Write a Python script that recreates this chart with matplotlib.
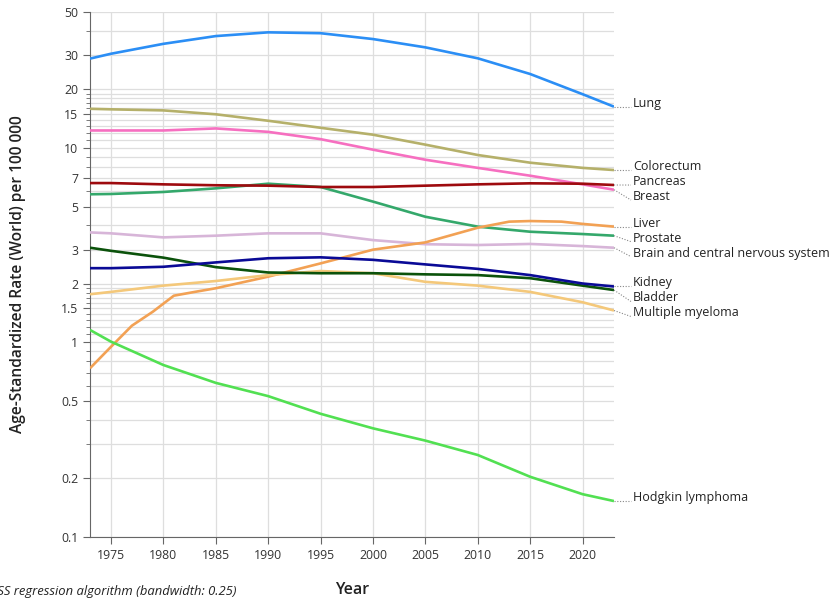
import matplotlib.pyplot as plt
from matplotlib.ticker import FixedLocator, NullFormatter, FuncFormatter

plt.rcParams['font.family'] = ['Open Sans', 'DejaVu Sans']

# smoothed age-standardized rates per 100 000
years = [1973, 1975, 1980, 1985, 1990, 1995, 2000, 2005, 2010, 2015, 2020, 2023]
liver_years = [1973, 1975, 1977, 1979, 1981, 1983, 1985, 1990, 1995, 2000,
               2005, 2010, 2013, 2015, 2018, 2020, 2023]

lung = [28.8, 30.5, 34.3, 37.6, 39.3, 38.9, 36.3, 32.9, 28.9, 24.0, 18.9, 16.3]
colorectum = [15.9, 15.8, 15.6, 14.9, 13.8, 12.7, 11.7, 10.4, 9.2, 8.4, 7.9, 7.7]
breast = [12.3, 12.3, 12.3, 12.6, 12.1, 11.1, 9.8, 8.7, 7.9, 7.2, 6.5, 6.1]
pancreas = [6.6, 6.6, 6.5, 6.43, 6.4, 6.3, 6.3, 6.4, 6.5, 6.58, 6.55, 6.45]
prostate = [5.78, 5.8, 5.94, 6.2, 6.55, 6.3, 5.3, 4.43, 3.94, 3.71, 3.61, 3.54]
brain = [3.68, 3.64, 3.47, 3.54, 3.64, 3.64, 3.36, 3.2, 3.17, 3.21, 3.13, 3.07]
kidney = [2.41, 2.41, 2.45, 2.58, 2.71, 2.74, 2.66, 2.52, 2.39, 2.22, 2.01, 1.94]
bladder = [3.07, 2.96, 2.73, 2.44, 2.29, 2.27, 2.27, 2.24, 2.22, 2.14, 1.96, 1.86]
myeloma = [1.77, 1.82, 1.96, 2.07, 2.22, 2.33, 2.27, 2.05, 1.96, 1.82, 1.61, 1.46]
hodgkin = [1.16, 1.01, 0.766, 0.62, 0.53, 0.43, 0.362, 0.313, 0.264, 0.204, 0.166, 0.153]
liver = [0.737, 0.95, 1.22, 1.44, 1.74, 1.82, 1.90, 2.18, 2.55, 3.0,
         3.27, 3.89, 4.18, 4.21, 4.18, 4.07, 3.94]

series = [
    ("Lung", years, lung, "#2b8ef5"),
    ("Colorectum", years, colorectum, "#b5b06a"),
    ("Breast", years, breast, "#f66fc0"),
    ("Prostate", years, prostate, "#34a86b"),
    ("Pancreas", years, pancreas, "#9e0b0f"),
    ("Brain and central nervous system", years, brain, "#d7b5d8"),
    ("Liver", liver_years, liver, "#f2a154"),
    ("Multiple myeloma", years, myeloma, "#f4c87a"),
    ("Bladder", years, bladder, "#0b520b"),
    ("Kidney", years, kidney, "#0a0a96"),
    ("Hodgkin lymphoma", years, hodgkin, "#52e052"),
]

fig = plt.figure(figsize=(8.3, 5.99), dpi=100)
ax = fig.add_axes([90 / 830, 62 / 599, 524 / 830, 525 / 599])
ax.set_yscale('log')

for name, x, y, c in series:
    ax.plot(x, y, color=c, lw=1.9, solid_capstyle='butt', zorder=3)

ax.set_xlim(1973, 2023)
ax.set_ylim(0.1, 50)

major = [0.1, 0.2, 0.5, 1, 1.5, 2, 3, 5, 7, 10, 15, 20, 30, 50]
minor = [0.3, 0.4, 0.6, 0.7, 0.8, 0.9,
         1.1, 1.2, 1.3, 1.4, 1.6, 1.7, 1.8, 1.9,
         4, 6, 8, 9, 11, 12, 13, 14, 16, 17, 18, 19, 40]
ax.yaxis.set_major_locator(FixedLocator(major))
ax.yaxis.set_minor_locator(FixedLocator(minor))
ax.yaxis.set_major_formatter(FuncFormatter(lambda v, p: f"{v:g}"))
ax.yaxis.set_minor_formatter(NullFormatter())
ax.set_xticks(range(1975, 2021, 5))

ax.grid(True, which='both', axis='y', color='#dedede', lw=0.9)
ax.grid(True, which='major', axis='x', color='#dedede', lw=0.9)
ax.set_axisbelow(True)
for s in ['top', 'right']:
    ax.spines[s].set_visible(False)
for s in ['left', 'bottom']:
    ax.spines[s].set_color('#666666')
ax.tick_params(which='major', length=5, color='#666666', labelsize=8.8,
               labelcolor='#333333')
ax.tick_params(which='minor', length=3, color='#666666')

# labels at the right end, pushed apart so they don't overlap
ends = ax.transData.transform([(x[-1], y[-1]) for _, x, y, _ in series])
order = sorted(range(len(series)), key=lambda i: -ends[i][1])
label_px = {}
prev = None
for i in order:
    yy = ends[i][1]
    if prev is not None and prev - yy < 15:
        yy = prev - 15
    label_px[i] = yy
    prev = yy

inv = ax.transData.inverted()
for i, (name, x, y, c) in enumerate(series):
    lx, ly = inv.transform((631, label_px[i]))
    tx, _ = inv.transform((633, label_px[i]))
    ax.plot([x[-1], lx], [y[-1], ly], color='#888888', lw=0.8,
            linestyle=(0, (1, 1.5)), clip_on=False)
    ax.text(tx, ly, name, va='baseline', ha='left', fontsize=9,
            color='#222222', clip_on=False)

fig.text(18 / 830, 1 - 274.5 / 599, "Age-Standardized Rate (World) per 100 000",
         rotation=90, ha='center', va='center', fontsize=11.2, fontweight='semibold',
         color='#222222')
fig.text(352 / 830, 1 - 590 / 599, "Year", ha='center', va='center',
         fontsize=11.5, fontweight='semibold', color='#222222')
fig.text(-25 / 830, 1 - 591 / 599, "LOESS regression algorithm (bandwidth: 0.25)",
         ha='left', va='center', fontsize=9.4, style='italic', color='#222222')

fig.savefig('out.png', dpi=100)
